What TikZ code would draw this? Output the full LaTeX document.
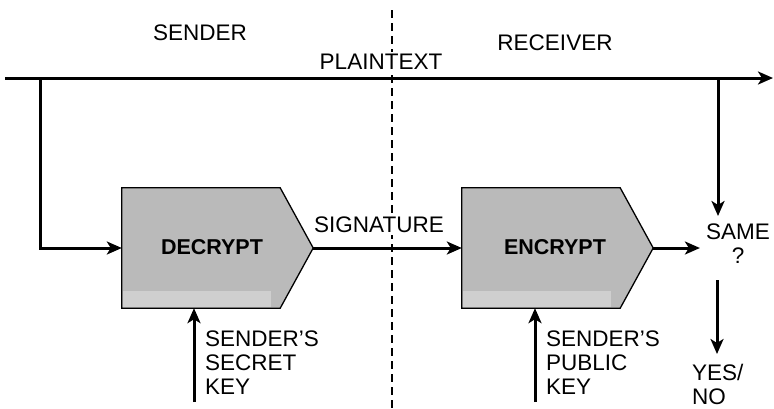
\documentclass[tikz,border=0pt]{standalone}
\usepackage{fontspec}
\setmainfont{Liberation Sans}
\usetikzlibrary{arrows.meta}
\tikzset{
  arr/.style={line width=3pt, -{Stealth[length=15pt,width=13pt,inset=4pt]}},
  lbl/.style={font=\fontsize{22.5}{24}\selectfont, inner sep=1pt},
  boxlbl/.style={font=\fontsize{21.5}{24}\selectfont\bfseries, inner sep=0pt},
  procbox/.style={draw=black, line width=1.3pt, fill=black!27},
  bandfill/.style={fill=black!19},
  divider/.style={line width=1.2pt, dash pattern=on 8pt off 5pt},
  frame/.style={minimum width=191pt, minimum height=120pt, inner sep=0pt}
}
\begin{document}
\begin{tikzpicture}[x=1pt,y=-1pt]
\useasboundingbox (0,0) rectangle (774,408);
% divider
\coordinate (dtop) at (392,10);
\coordinate (dbot) at (392,408);
\draw[divider] (dtop) -- (dbot);
% titles
\node[lbl] (sender) at (200,33) {SENDER};
\node[lbl] (receiver) at (555,43) {RECEIVER};
\node[lbl, fill=white, inner sep=2pt] (plain) at (381,62) {PLAINTEXT};
% boxes
\node[frame] (dec) at (217.5,248) {};
\node[frame] (enc) at (557.5,248) {};
\foreach \b in {dec,enc}{
  \path[procbox] (\b.north west) -- ([xshift=-33pt]\b.north east) -- (\b.east)
     -- ([xshift=-33pt]\b.south east) -- (\b.south west) -- cycle;
  \path[bandfill] ([xshift=1pt,yshift=1.5pt]\b.south west) rectangle ([xshift=-42pt,yshift=17pt]\b.south east);
}
\node[boxlbl] (dect) at (212,247) {DECRYPT};
\node[boxlbl] (enct) at (555,247) {ENCRYPT};
% plaintext line
\coordinate (pstart) at (5,78);
\coordinate (pend) at (773,78);
\draw[arr] (pstart) -- (pend);
\coordinate (tapL) at (40,78);
\coordinate (tapR) at (718,78);
\draw[arr] (tapL) |- (dec.west);
% signature
\node[lbl, fill=white, inner sep=2pt] (sig) at (379,225) {SIGNATURE};
\draw[arr] (dec.east) -- (enc.west);
% same
\node[lbl, align=center, inner sep=0pt] (same) at (738,244) {SAME\\?};
\draw[arr] (enc.east) -- ([xshift=-6pt]same.west |- enc.east);
\draw[arr] (tapR) -- (718,216);
\coordinate (ynfrom) at (717,280);
\node[lbl, align=left, anchor=west, inner sep=0pt] (yn) at (692,384) {YES/\\NO};
\draw[arr] (ynfrom) -- (717,354);
% keys
\coordinate (k1) at (194,402);
\coordinate (k2) at (535,402);
\draw[arr] (k1) -- (k1 |- dec.south);
\draw[arr] (k2) -- (k2 |- enc.south);
\node[lbl, align=left, anchor=west, inner sep=0pt] (sk) at (205,363) {SENDER'S\\SECRET\\KEY};
\node[lbl, align=left, anchor=west, inner sep=0pt] (pk) at (546,363) {SENDER'S\\PUBLIC\\KEY};
\end{tikzpicture}
\end{document}
